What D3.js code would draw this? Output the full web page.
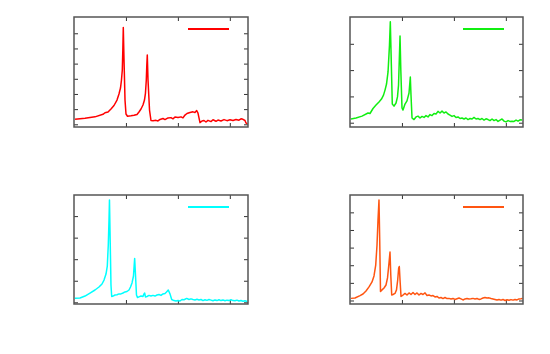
<!DOCTYPE html>
<html><head><meta charset="utf-8">
<script src="https://cdn.jsdelivr.net/npm/d3@7"></script>
<style>html,body{margin:0;padding:0;background:#fff;}svg{display:block;}</style>
</head><body>
<svg id="chart" width="550" height="354"></svg>
<script>
// ---- data ----
const x1 = [2,21.2,40.4,55.8,59.7,65.5,71.2,77.0,82.8,86.6,89.5,91.4,93.0,94.0,94.9,96.3,98.2,100.1,103.0,109.7,115.5,121.3,125.1,129.0,132.8,135.7,137.6,139.2,140.2,141.1,142.5,145.4,148.2,152.1,157.9,161.7,165.6,171.3,175.2,181.0,186.7,190.6,194.4,200.2,206.0,209.8,213.7,217.5,223.3,229.1,232.9,236.2,238.7,242.6,246.4,250.3,254.1,258.0,263.7,267.6,273.4,277.2,283.0,288.8,294.6,300.3,306.1,311.9,317.6,321.5,325.3,329.2,331.1,334.0];
const y1 = [0.33,0.40,0.49,0.66,0.76,0.81,1.01,1.24,1.60,2.00,2.39,2.92,3.58,4.90,6.38,4.24,1.60,0.68,0.53,0.56,0.60,0.65,0.81,1.01,1.27,1.60,2.06,2.92,3.91,4.57,2.92,0.94,0.25,0.24,0.26,0.22,0.32,0.38,0.31,0.42,0.44,0.36,0.48,0.45,0.49,0.42,0.61,0.71,0.78,0.82,0.78,0.91,0.74,0.11,0.22,0.25,0.15,0.26,0.18,0.30,0.20,0.28,0.22,0.31,0.24,0.30,0.25,0.32,0.27,0.36,0.33,0.25,0.09,0.02];

const x2 = [1.9,11.6,23.1,34.7,38.5,44.3,50.1,55.8,60.6,64.5,67.4,70.3,73.2,76.0,77.6,78.9,81.4,84.7,88.6,91.4,93.4,94.9,96.3,97.8,100.1,102.0,105.9,109.7,113.6,116.1,117.4,119.4,123.2,127.1,130.9,134.8,138.6,142.5,146.3,150.2,154.0,157.9,161.7,165.6,169.4,173.3,177.1,181.0,184.8,188.7,192.5,196.4,200.2,204.1,207.9,211.8,215.6,219.5,223.3,227.2,231.0,234.9,238.7,242.6,246.4,250.3,254.1,258.0,261.8,265.7,269.5,273.4,277.2,281.1,284.9,288.8,292.6,296.5,300.3,304.2,308.0,311.9,315.7,319.6,323.4,327.3,331.1];
const y2 = [0.14,0.18,0.25,0.37,0.35,0.54,0.67,0.79,0.90,1.05,1.24,1.47,1.93,2.95,3.84,2.76,0.71,0.63,0.75,0.98,1.43,2.39,3.30,2.00,0.56,0.48,0.71,0.83,1.13,1.74,1.05,0.18,0.12,0.22,0.25,0.18,0.24,0.20,0.27,0.22,0.31,0.27,0.35,0.33,0.43,0.37,0.44,0.37,0.41,0.33,0.29,0.24,0.27,0.20,0.22,0.16,0.18,0.14,0.18,0.12,0.16,0.14,0.20,0.14,0.16,0.12,0.16,0.10,0.15,0.12,0.08,0.14,0.08,0.12,0.05,0.10,0.14,0.06,0.03,0.08,0.05,0.06,0.05,0.10,0.06,0.11,0.10];

const x3 = [1.9,11.6,21.2,30.8,40.4,48.1,53.9,57.8,61.6,64.1,66.0,67.4,68.3,69.3,71.2,72.6,75.1,79.0,82.8,86.6,90.5,94.3,98.2,102.0,105.9,108.8,111.7,114.5,115.9,116.8,118.4,120.3,122.2,125.1,129.0,132.8,134.8,136.1,137.6,140.5,144.4,148.2,152.1,155.9,159.8,163.6,167.5,171.3,175.2,178.1,181.5,184.8,188.1,192.5,196.4,200.2,204.1,207.9,211.8,217.0,221.4,225.2,229.1,232.9,236.8,240.6,244.5,248.3,252.2,256.0,259.9,263.7,267.6,271.4,275.3,279.1,283.0,286.8,290.7,294.5,298.4,302.2,306.1,309.9,313.8,317.6,321.5,325.3,329.2,333.6];
const y3 = [0.19,0.20,0.29,0.43,0.57,0.71,0.85,1.03,1.31,1.68,2.66,3.82,4.75,3.35,0.80,0.27,0.29,0.34,0.35,0.39,0.39,0.43,0.48,0.50,0.57,0.71,0.90,1.22,1.73,2.03,1.27,0.34,0.22,0.25,0.29,0.27,0.39,0.43,0.25,0.27,0.32,0.29,0.32,0.29,0.34,0.36,0.32,0.39,0.41,0.48,0.57,0.39,0.13,0.08,0.06,0.08,0.06,0.13,0.12,0.18,0.13,0.16,0.13,0.11,0.14,0.11,0.13,0.08,0.12,0.09,0.13,0.10,0.07,0.11,0.08,0.12,0.08,0.11,0.07,0.10,0.08,0.12,0.08,0.07,0.10,0.06,0.08,0.05,0.07,0.04];

const x4 = [1.9,9.6,19.3,25.0,30.8,36.6,42.4,46.2,49.5,52.0,53.9,55.8,57.2,58.7,61.6,65.5,69.3,72.2,74.7,77.0,78.5,80.3,82.8,86.6,89.5,91.8,93.7,94.9,96.3,98.2,102.0,105.9,109.7,113.6,117.4,121.3,125.1,129.0,132.8,136.7,140.5,144.4,148.2,152.1,155.9,159.8,163.6,167.5,171.3,175.2,179.0,182.9,186.7,190.6,194.4,198.3,202.1,206.0,209.8,213.7,217.5,221.4,225.2,229.1,232.9,236.8,240.6,244.5,248.3,252.2,256.0,259.9,263.7,267.6,271.4,275.3,279.1,283.0,286.8,290.7,294.5,298.4,302.2,306.1,309.9,313.8,317.6,321.5,325.3,329.2,332.1];
const y4 = [0.12,0.14,0.28,0.37,0.54,0.77,1.05,1.39,2.01,3.15,4.57,5.70,3.43,0.51,0.60,0.71,0.88,1.28,2.01,2.75,1.45,0.31,0.34,0.40,0.60,1.16,1.84,1.93,1.16,0.23,0.31,0.40,0.31,0.43,0.34,0.45,0.34,0.43,0.31,0.40,0.34,0.43,0.28,0.31,0.26,0.28,0.20,0.23,0.14,0.17,0.11,0.17,0.11,0.12,0.09,0.11,0.06,0.10,0.14,0.09,0.03,0.09,0.11,0.09,0.10,0.12,0.09,0.11,0.06,0.09,0.14,0.17,0.14,0.15,0.11,0.09,0.06,0.03,0.06,0.02,0.06,0.00,0.04,0.01,0.05,0.02,0.06,0.03,0.09,0.10,0.12];

const xTicks = [100, 200, 300];
const yTicks1 = [0,1,2,3,4,5,6];
const yTicks2 = [0,1,2,3];
const yTicks3 = [0,1,2,3,4];
const yTicks4 = [0,1,2,3,4,5];

// ---- layout ----
const panels = [
  {x: x1, y: y1, color: "#ff0000", left: 74,  right: 248, top: 17,  bottom: 127, xDom: [0,335], yDom: [-0.178, 7.073], yt: yTicks1},
  {x: x2, y: y2, color: "#11ee11", left: 350, right: 523, top: 17,  bottom: 127, xDom: [0,333], yDom: [-0.163, 4.019], yt: yTicks2},
  {x: x3, y: y3, color: "#00ffff", left: 74,  right: 248, top: 195, bottom: 304, xDom: [0,335], yDom: [-0.079, 4.979], yt: yTicks3},
  {x: x4, y: y4, color: "#ff5511", left: 350, right: 523, top: 195, bottom: 304, xDom: [0,333], yDom: [-0.199, 5.984], yt: yTicks4}
];

const svg = d3.select("#chart");

panels.forEach(p => {
  const xs = d3.scaleLinear().domain(p.xDom).range([p.left, p.right]);
  const ys = d3.scaleLinear().domain(p.yDom).range([p.bottom, p.top]);
  const g = svg.append("g");
  const tl = 4;

  const axB = d3.axisBottom(xs).tickValues(xTicks).tickSize(-tl).tickFormat("");
  const axT = d3.axisTop(xs).tickValues(xTicks).tickSize(-tl).tickFormat("");
  const axL = d3.axisLeft(ys).tickValues(p.yt).tickSize(-tl).tickFormat("");
  const axR = d3.axisRight(ys).tickValues(p.yt).tickSize(-tl).tickFormat("");
  [[axB, `translate(0,${p.bottom})`],[axT, `translate(0,${p.top})`],[axL, `translate(${p.left},0)`],[axR, `translate(${p.right},0)`]].forEach(([ax, tr]) => {
    const a = g.append("g").attr("transform", tr).call(ax);
    a.select(".domain").remove();
    a.selectAll("line").attr("stroke", "#333").attr("stroke-width", 1);
  });

  const line = d3.line().x((d,i) => xs(p.x[i])).y(d => ys(d));
  g.append("path").datum(p.y)
    .attr("d", line)
    .attr("fill", "none")
    .attr("stroke", p.color)
    .attr("stroke-width", 1.5)
    .attr("stroke-linejoin", "round");

  g.append("rect")
    .attr("x", p.left).attr("y", p.top)
    .attr("width", p.right - p.left).attr("height", p.bottom - p.top)
    .attr("fill", "none").attr("stroke", "#555").attr("stroke-width", 1.5);

  // legend sample line
  const lx = p.right - 60;
  g.append("line")
    .attr("x1", lx).attr("x2", lx + 41)
    .attr("y1", p.top + 12).attr("y2", p.top + 12)
    .attr("stroke", p.color).attr("stroke-width", 2);
});
</script>
</body></html>
